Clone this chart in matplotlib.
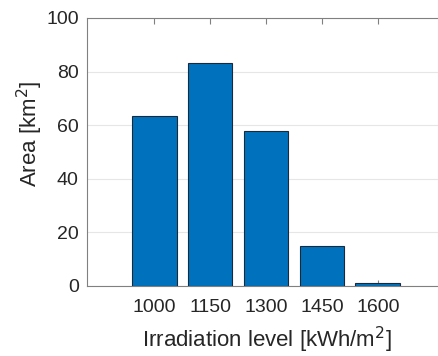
import matplotlib
matplotlib.use('Agg')
import matplotlib.pyplot as plt

levels = ['1000', '1150', '1300', '1450', '1600']
area = [63.6, 83.3, 57.7, 14.8, 1.1]

plt.rcParams['font.family'] = ['Liberation Sans', 'DejaVu Sans']

fig = plt.figure(figsize=(4.38, 3.56), dpi=100)
# axes runs past the right edge, as in the cropped original
ax = fig.add_axes([87/438, 1 - 286/356, 358/438, 268/356])

x = list(range(1, len(levels) + 1))
ax.bar(x, area, width=0.8, color='#0072BD', edgecolor='#1a2a3a', linewidth=0.8, zorder=3)

ax.set_xlim(-0.2, len(levels) + 1.2)
ax.set_ylim(0, 100)
ax.set_yticks([0, 20, 40, 60, 80, 100])
ax.set_xticks(x)
ax.set_xticklabels(levels)

ax.yaxis.grid(True, color='#e6e6e6', linewidth=0.8, zorder=0)
ax.set_axisbelow(True)

for s in ax.spines.values():
    s.set_color('#808080')
    s.set_linewidth(0.8)
ax.tick_params(direction='in', top=True, right=False, labelsize=14, length=4, width=0.8)
ax.tick_params(axis='x', colors='#808080', labelcolor='#262626', pad=9)
ax.tick_params(axis='y', colors='#808080', labelcolor='#262626', length=0, pad=6)

ax.set_xlabel('Irradiation level [kWh/m$^2$]', fontsize=16, color='#262626', va='center')
ax.set_ylabel('Area [km$^2$]', fontsize=16, color='#262626', va='center')
ax.xaxis.set_label_coords((267 - 87) / 358, (286 - 340) / 268)
ax.yaxis.set_label_coords((30 - 87) / 358, (286 - 134) / 268)

fig.savefig('out.png', dpi=100)
